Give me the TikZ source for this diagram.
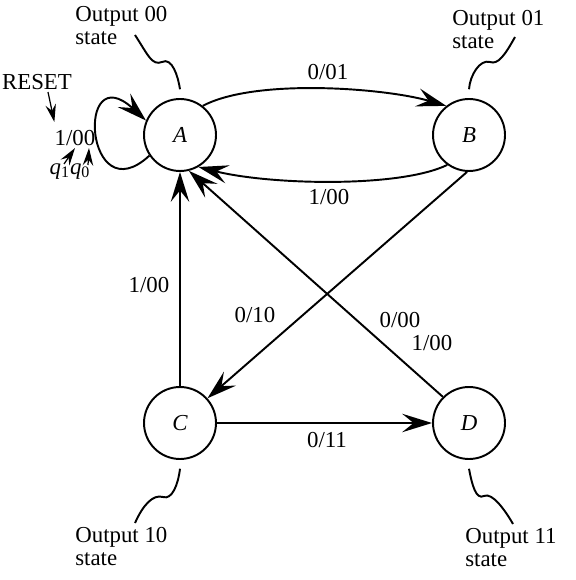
\documentclass[tikz,border=0pt]{standalone}
\usepackage{fontspec}
\setmainfont{Liberation Serif}
\usetikzlibrary{arrows.meta,calc}

\tikzset{
  state/.style={circle,draw,line width=1.1pt,minimum size=1.44cm,inner sep=0pt,
    font=\fontsize{13}{13}\selectfont\itshape},
  trans/.style={line width=1.1pt,-{Stealth[length=17pt,width=10.5pt,inset=6.5pt]}},
  pointer/.style={line width=0.7pt,-{Stealth[length=10pt,width=6pt,inset=3.5pt]}},
  wave/.style={line width=1.1pt},
  lbl/.style={inner sep=0pt,font=\fontsize{13}{13}\selectfont},
  note/.style={inner sep=0pt,align=left,anchor=north west,font=\fontsize{13}{13}\selectfont}
}

\begin{document}
\begin{tikzpicture}[x=0.02cm,y=-0.02cm]
\useasboundingbox (0,0) rectangle (575,580);

\node[state] (A) at (180,135) {A};
\node[state] (B) at (469,135) {B};
\node[state] (C) at (180,423) {C};
\node[state] (D) at (469,423) {D};

\draw[trans] (A.52) .. controls (255,78) and (385,88) .. (B.128);
\draw[trans] (B.234) .. controls (400,188) and (270,185) .. (A.-60);
\draw[trans] (C.north) -- (A.south);
\draw[trans] (B.-93) -- (C.42);
\draw[trans] (D.135) -- (A.-76);
\draw[trans] (C.east) -- (D.west);
\draw[trans] (A.214) .. controls (85,215) and (75,55) .. (A.157);

\node[lbl] (l01) at (328,72) {0/01};
\node[lbl] (lba) at (329,197) {1/00};
\node[lbl] (lca) at (149,285) {1/00};
\node[lbl] (lbc) at (255,315) {0/10};
\node[lbl] (lda) at (400,320) {0/00};
\node[lbl] (ldb) at (432,343) {1/00};
\node[lbl] (lcd) at (327,440) {0/11};

\node[lbl] (reset) at (37,82) {RESET};
\node[lbl] (lp) at (75,138) {1/00};
\node[lbl,anchor=north] (qn) at (70,163) {\textit{q}\textsubscript{1}\textit{q}\textsubscript{0}};
\draw[pointer] ($(reset.south)+(11,2)$) -- ($(lp.north west)+(0,-8)$);
\draw[pointer] ($(qn.north)+(-6,1)$) -- ($(lp.south)+(0,2)$);
\draw[pointer] ($(qn.north)+(18,2)$) -- ($(lp.south)+(14,2)$);

\node[note] (oA) at (75,6) {Output 00\\state};
\node[note] (oB) at (452,10) {Output 01\\state};
\node[note] (oC) at (75,527) {Output 10\\state};
\node[note] (oD) at (465,528) {Output 11\\state};

\coordinate (wA) at (135,35);
\coordinate (wB) at (515,37);
\coordinate (wC) at (135,523);
\coordinate (wD) at (513,524);
\draw[wave] (wA) .. controls (148,55) and (152,66) .. (162,62) .. controls (172,57) and (178,76) .. ([yshift=5pt]A.north);
\draw[wave] (wB) .. controls (505,55) and (498,65) .. (490,62) .. controls (480,59) and (470,75) .. ([yshift=5pt]B.north);
\draw[wave] ([yshift=-5pt]C.south) .. controls (178,485) and (172,500) .. (163,497) .. controls (153,494) and (143,505) .. (wC);
\draw[wave] ([yshift=-5pt]D.south) .. controls (472,485) and (476,500) .. (484,496) .. controls (492,492) and (505,510) .. (wD);
\end{tikzpicture}
\end{document}
